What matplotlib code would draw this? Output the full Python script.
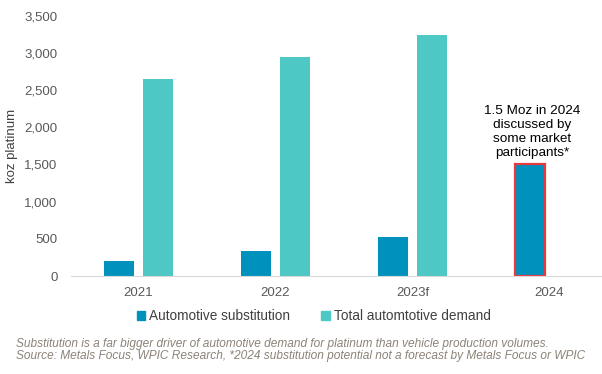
import numpy as np
import matplotlib.pyplot as plt
from matplotlib.patches import Patch

# koz platinum
years = ["2021", "2022", "2023f", "2024"]
substitution = [200, 340, 530, 1500]
total_demand = [2650, 2950, 3240, 0]

sub_color = "#0091bd"
tot_color = "#4ec8c4"

plt.rcParams['font.family'] = ['Liberation Sans', 'DejaVu Sans']

fig = plt.figure(figsize=(6.02, 3.74), dpi=100)
ax = fig.add_axes([0.1174, 0.262, 0.8826, 0.696])

x = np.arange(len(years))
w = 0.223
off = 0.142

bars_sub = ax.bar(x - off, substitution, w, color=sub_color, zorder=2)
ax.bar(x[:3] + off, total_demand[:3], w, color=tot_color, zorder=2)

# highlight the 2024 bar
bars_sub[3].set_edgecolor("#e8393f")
bars_sub[3].set_linewidth(1.6)

ax.set_xlim(-0.495, 3.383)
ax.set_ylim(0, 3500)
ax.set_yticks(range(0, 3501, 500))
ax.set_yticklabels([f"{v:,}" for v in range(0, 3501, 500)])
ax.set_xticks(x)
ax.set_xticklabels(years)

for s in ["top", "right", "left"]:
    ax.spines[s].set_visible(False)
ax.spines["bottom"].set_color("#d9d9d9")
ax.tick_params(axis="both", length=0, labelsize=9.5, colors="#595959")
ax.tick_params(axis="y", pad=9.5)
ax.tick_params(axis="x", pad=8)
ax.set_ylabel("koz platinum", fontsize=9.5, color="#404040", labelpad=4.5)

ax.text(x[3] - off + 0.015, 1580, "1.5 Moz in 2024\ndiscussed by\nsome market\nparticipants*",
        ha="center", va="bottom", fontsize=9.7, color="black", linespacing=1.2)

handles = [Patch(color=sub_color), Patch(color=tot_color)]
fig.legend(handles, ["Automotive substitution", "Total automtotive demand"],
           loc="center", bbox_to_anchor=(0.521, 1 - 316.5 / 374), ncol=2, frameon=False,
           fontsize=9.8, handlelength=0.6, handleheight=0.6, handletextpad=0.3,
           columnspacing=2.3, labelcolor="#404040")

foot = ("Substitution is a far bigger driver of automotive demand for platinum than vehicle production volumes.\n"
        "Source: Metals Focus, WPIC Research, *2024 substitution potential not a forecast by Metals Focus or WPIC")
fig.text(15.7 / 602, 1 - 350 / 374, foot, ha="left", va="center", fontsize=8.6,
         style="italic", color="#8c8278", linespacing=1.1,
         family=['Liberation Sans Narrow', 'Liberation Sans', 'DejaVu Sans'])

fig.savefig("out.png", dpi=100)
